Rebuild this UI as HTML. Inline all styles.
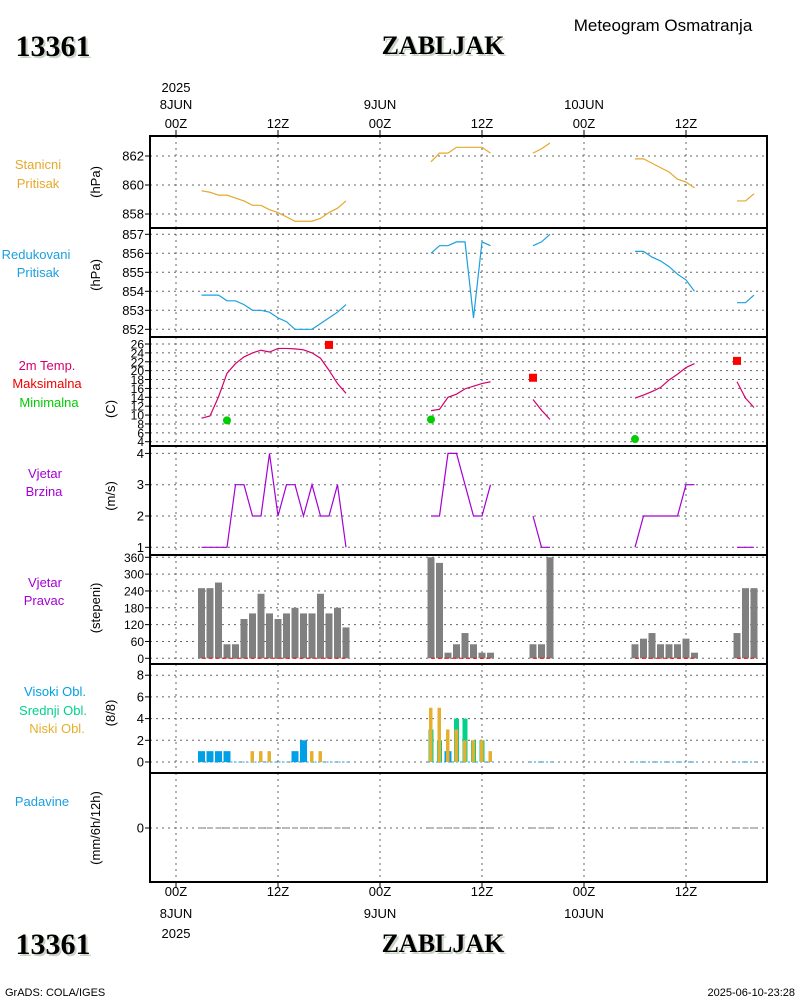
<!DOCTYPE html>
<html><head><meta charset="utf-8"><style>
html,body{margin:0;padding:0;background:#fff;}
svg{display:block;font-family:"Liberation Sans",sans-serif;}
</style></head><body>
<svg id="chart" width="800" height="1000" viewBox="0 0 800 1000" xmlns="http://www.w3.org/2000/svg">
<rect x="0" y="0" width="800" height="1000" fill="#fff"/>
<g id="grid"></g>
<g id="marks"></g>
<g id="frames"></g>
<g id="labels" font-size="13" fill="#000"></g>
<text x="663" y="31" font-size="17" text-anchor="middle" fill="#000">Meteogram Osmatranja</text>
<text x="55" y="58" font-size="30" font-weight="bold" font-family="Liberation Serif,serif" text-anchor="middle" fill="#c8d4c4">13361</text>
<text x="53" y="56" font-size="30" font-weight="bold" font-family="Liberation Serif,serif" text-anchor="middle" fill="#000">13361</text>
<text x="445" y="56" font-size="26" font-weight="bold" font-family="Liberation Serif,serif" text-anchor="middle" fill="#c8d4c4">ZABLJAK</text>
<text x="443" y="54" font-size="26" font-weight="bold" font-family="Liberation Serif,serif" text-anchor="middle" fill="#000">ZABLJAK</text>
<text x="55" y="956" font-size="30" font-weight="bold" font-family="Liberation Serif,serif" text-anchor="middle" fill="#c8d4c4">13361</text>
<text x="53" y="954" font-size="30" font-weight="bold" font-family="Liberation Serif,serif" text-anchor="middle" fill="#000">13361</text>
<text x="445" y="954" font-size="26" font-weight="bold" font-family="Liberation Serif,serif" text-anchor="middle" fill="#c8d4c4">ZABLJAK</text>
<text x="443" y="952" font-size="26" font-weight="bold" font-family="Liberation Serif,serif" text-anchor="middle" fill="#000">ZABLJAK</text>
<text x="5" y="996" font-size="11" fill="#000">GrADS: COLA/IGES</text>
<text x="795" y="996" font-size="11" text-anchor="end" fill="#000">2025-06-10-23:28</text>
</svg>
<script>
// ---- data (hourly, hours since 2025-06-08 00Z) ----
const hours = [3,4,5,6,7,8,9,10,11,12,13,14,15,16,17,18,19,20, 30,31,32,33,34,35,36,37, 42,43,44, 54,55,56,57,58,59,60,61, 66,67,68];
const stationP = [859.6,859.5,859.3,859.3,859.1,858.9,858.6,858.6,858.3,858.1,857.8,857.5,857.5,857.5,857.7,858.1,858.4,858.9, 861.6,862.2,862.2,862.6,862.6,862.6,862.6,862.2, 862.2,862.5,862.9, 861.8,861.8,861.5,861.2,860.9,860.4,860.2,859.8, 858.9,858.9,859.4];
const reducedP = [853.8,853.8,853.8,853.5,853.5,853.3,853.0,853.0,852.9,852.6,852.4,852.0,852.0,852.0,852.3,852.6,852.9,853.3, 856.0,856.4,856.4,856.6,856.6,852.6,856.6,856.4, 856.4,856.6,857.0, 856.1,856.1,855.8,855.6,855.3,854.9,854.6,854.0, 853.4,853.4,853.8];
const temp2m = [9.3,9.8,14.1,19.4,21.6,23.1,24.0,24.6,24.2,25.0,25.0,24.9,24.7,24.0,22.8,20.1,17.1,14.9, 11.0,11.3,14.0,14.7,15.9,16.5,17.1,17.5, 13.5,11.1,9.0, 13.8,14.5,15.3,16.2,17.9,19.2,20.7,21.6, 17.5,13.8,11.7];
const maxHours = [18,42,66];
const maxTemp = [25.8,18.4,22.2];
const minHours = [6,30,54];
const minTemp = [8.8,9.0,4.6];
const windSpeed = [1,1,1,1,3,3,2,2,4,2,3,3,2,3,2,2,3,1, 2,2,4,4,3,2,2,3, 2,1,1, 1,2,2,2,2,2,3,3, 1,1,1];
const windDir = [250,250,270,50,50,140,160,230,160,140,160,180,160,160,230,160,180,110, 360,340,20,50,90,50,20,20, 50,50,360, 50,70,90,50,50,50,70,20, 90,250,250];
const cloudHigh = [1,1,1,1,0,0,0,0,0,0,0,1,2,0,0,0,0,0, 0,0,1,0,0,0,0,0, 0,0,0, 0,0,0,0,0,0,0,0, 0,0,0];
const cloudMid = [0,0,0,0,0,0,0,0,0,0,0,0,0,0,0,0,0,0, 3,2,0,4,4,2,2,0, 0,0,0, 0,0,0,0,0,0,0,0, 0,0,0];
const cloudLow = [0,0,0,0,0,0,1,1,1,0,0,0,0,1,1,0,0,0, 5,5,3,3,2,2,2,1, 0,0,0, 0,0,0,0,0,0,0,0, 0,0,0];
const precip = [0,0,0,0,0,0,0,0,0,0,0,0,0,0,0,0,0,0, 0,0,0,0,0,0,0,0, 0,0,0, 0,0,0,0,0,0,0,0, 0,0,0];
const timeTickHours = [0,12,24,36,48,60];
const timeTickLabels = ["00Z","12Z","00Z","12Z","00Z","12Z"];
const dayLabels = [[0,"8JUN"],[24,"9JUN"],[48,"10JUN"]];
const stationTicks = [858,860,862];
const reducedTicks = [852,853,854,855,856,857];
const tempTicks = [4,6,8,10,12,14,16,18,20,22,24,26];
const windSpdTicks = [1,2,3,4];
const windDirTicks = [0,60,120,180,240,300,360];
const cloudTicks = [0,2,4,6,8];
const precipTicks = [0];

// ---- axes ----
const L=150, R=767;
const xOf = h => 176 + 8.5*h;
const yStation = v => 185 - (v-860)*14.5;
const yReduced = v => 329.3 - (v-852)*19.0;
const yTemp = v => 441.7 - (v-4)*4.44;
const yWind = v => 547.3 - (v-1)*31.3;
const yDir = v => 658.3 - v*0.2806;
const yCloud = v => 762 - v*10.85;
const yPrecip = v => 828 - v*10;
const panels = [[136,228],[228,337],[337,446],[446,555],[555,664],[664,773],[773,882]];

const NS="http://www.w3.org/2000/svg";
const grid=document.getElementById('grid'), marks=document.getElementById('marks'), frames=document.getElementById('frames'), labels=document.getElementById('labels');
function mk(tag, attrs, parent){const e=document.createElementNS(NS,tag);for(const k in attrs)e.setAttribute(k,attrs[k]);parent.appendChild(e);return e;}

timeTickHours.forEach((h,i)=>{
  const x=xOf(h);
  panels.forEach(p=>{
    const g=mk('line',{x1:x,x2:x,y1:p[0],y2:p[1],stroke:'#666','stroke-width':1,'stroke-dasharray':'2,4'},grid);
    
    
  });
  mk('line',{x1:x,x2:x,y1:130,y2:136,stroke:'#000','stroke-width':1},frames);
  mk('line',{x1:x,x2:x,y1:882,y2:888,stroke:'#000','stroke-width':1},frames);
  const t1=mk('text',{x:x,y:128,'text-anchor':'middle'},labels);t1.textContent=timeTickLabels[i];
  
  
  const t2=mk('text',{x:x,y:896,'text-anchor':'middle'},labels);t2.textContent=timeTickLabels[i];
  
  
});
dayLabels.forEach(d=>{
  const x=xOf(d[0]);
  const a=mk('text',{x:x,y:109,'text-anchor':'middle'},labels);a.textContent=d[1];
  
  
  const b=mk('text',{x:x,y:918,'text-anchor':'middle'},labels);b.textContent=d[1];
  
  
});
{const a=mk('text',{x:xOf(0),y:92,'text-anchor':'middle'},labels);a.textContent='2025';
 
 
 const b=mk('text',{x:xOf(0),y:938,'text-anchor':'middle'},labels);b.textContent='2025';
 
 }

function yAxis(ticks, fy, fs, name){
  ticks.forEach(v=>{
    const y=fy(v);
    const g=mk('line',{x1:L,x2:R,y1:y,y2:y,stroke:'#666','stroke-width':1,'stroke-dasharray':'2,4'},grid);
    
    
    mk('line',{x1:L-5,x2:L,y1:y,y2:y,stroke:'#000'},frames);
    const t=mk('text',{x:L-6,y:y+4.5,'text-anchor':'end','font-size':fs},labels);t.textContent=v;
    
    
  });
}
yAxis(stationTicks,yStation,13,'station-pressure');
yAxis(reducedTicks,yReduced,13,'reduced-pressure');
yAxis(tempTicks,yTemp,12,'temperature');
yAxis(windSpdTicks,yWind,13,'wind-speed');
yAxis(windDirTicks,yDir,12,'wind-direction');
yAxis(cloudTicks,yCloud,13,'cloud-cover');
yAxis(precipTicks,yPrecip,13,'precipitation');

panels.forEach((p,i)=>{
  const r=mk('rect',{x:L,y:p[0],width:R-L,height:p[1]-p[0],fill:'none',stroke:'#000','stroke-width':2},frames);
  
  
});

function segLine(vals, fy, color, name){
  let seg=[];
  const flush=()=>{ if(seg.length>1){const p=mk('polyline',{points:seg.join(' '),fill:'none',stroke:color,'stroke-width':1.2},marks);
      
      } seg=[]; };
  hours.forEach((h,i)=>{
    if(i>0 && h-hours[i-1]>1) flush();
    seg.push(xOf(h)+','+fy(vals[i]));
  });
  flush();
}
segLine(stationP,yStation,'#e6a82a','station-pressure-line');
segLine(reducedP,yReduced,'#1a9fdf','reduced-pressure-line');
segLine(temp2m,yTemp,'#d4006e','temperature-line');
segLine(windSpeed,yWind,'#a400d4','wind-speed-line');

maxHours.forEach((h,i)=>{
  const r=mk('rect',{x:xOf(h)-4,y:yTemp(maxTemp[i])-4,width:8,height:8,fill:'#f00'},marks);
  
  
});
minHours.forEach((h,i)=>{
  const c=mk('circle',{cx:xOf(h),cy:yTemp(minTemp[i]),r:4,fill:'#0c0'},marks);
  
  
});

hours.forEach((h,i)=>{
  const x=xOf(h), y=yDir(windDir[i]);
  const b=mk('rect',{x:x-3.5,y:y,width:7,height:yDir(0)-y,fill:'#808080'},marks);
  
  
});
(function(){
  let s=0;
  for(let i=1;i<=hours.length;i++){
    if(i===hours.length || hours[i]-hours[i-1]>1){
      const l=mk('line',{x1:xOf(hours[s]),x2:xOf(hours[i-1]),y1:yDir(0),y2:yDir(0),stroke:'#e00','stroke-width':1,'stroke-dasharray':'4,3'},marks);
      
      
      const pl=mk('line',{x1:xOf(hours[s])-3,x2:xOf(hours[i-1])+3,y1:yCloud(0),y2:yCloud(0),stroke:'#1a9fdf','stroke-width':1,'stroke-dasharray':'2,2'},marks);
      
      
      s=i;
    }
  }
})();

hours.forEach((h,i)=>{
  const x=xOf(h);
  if(cloudHigh[i]>0){const r=mk('rect',{x:x-3.5,y:yCloud(cloudHigh[i]),width:7,height:yCloud(0)-yCloud(cloudHigh[i]),fill:'#00a0e6'},marks);
    
    }
  if(cloudMid[i]>0){const r=mk('rect',{x:x-2.5,y:yCloud(cloudMid[i]),width:5,height:yCloud(0)-yCloud(cloudMid[i]),fill:'#00d28c'},marks);
    
    }
  if(cloudLow[i]>0){const r=mk('rect',{x:x-2,y:yCloud(cloudLow[i]),width:3.5,height:yCloud(0)-yCloud(cloudLow[i]),fill:'#e6af2d'},marks);
    
    }
});

hours.forEach((h,i)=>{
  const x=xOf(h), y=yPrecip(precip[i]);
  const r=mk('rect',{x:x-3,y:y-0.5,width:6,height:yPrecip(0)-y+1,fill:'#777'},marks);
  
  
});

function lbl(x,y,txt,color,name,fs){const t=mk('text',{x:x,y:y,'text-anchor':'middle',fill:color,'font-size':fs||13},labels);t.textContent=txt;
  
  }
function unit(x,y,txt,name){const t=mk('text',{x:0,y:0,'text-anchor':'middle',transform:`translate(${x},${y}) rotate(-90)`,'font-size':13},labels);t.textContent=txt;
  
  }
lbl(38,169,'Stanicni','#e6a82a','station-pressure-title');
lbl(38,188,'Pritisak','#e6a82a','station-pressure-title');
unit(100,182,'(hPa)','station-pressure-unit');
lbl(36,259,'Redukovani','#1a9fdf','reduced-pressure-title');
lbl(38,277,'Pritisak','#1a9fdf','reduced-pressure-title');
unit(100,275,'(hPa)','reduced-pressure-unit');
lbl(47,370,'2m Temp.','#d4006e','temperature-title');
lbl(47,388,'Maksimalna','#e00','max-temp-legend');
lbl(49,407,'Minimalna','#0c0','min-temp-legend');
unit(115,409,'(C)','temperature-unit');
lbl(45,478,'Vjetar','#a400d4','wind-speed-title');
lbl(44,496,'Brzina','#a400d4','wind-speed-title');
unit(115,496,'(m/s)','wind-speed-unit');
lbl(45,587,'Vjetar','#a400d4','wind-direction-title');
lbl(44,605,'Pravac','#a400d4','wind-direction-title');
unit(100,608,'(stepeni)','wind-direction-unit');
lbl(55,696,'Visoki Obl.','#00a0e6','high-cloud-legend');
lbl(53,715,'Srednji Obl.','#00d28c','mid-cloud-legend');
lbl(57,733,'Niski Obl.','#e6af2d','low-cloud-legend');
unit(115,713,'(8/8)','cloud-unit');
lbl(42,806,'Padavine','#1a9fdf','precipitation-title');
unit(100,828,'(mm/6h/12h)','precipitation-unit');
</script>
</body></html>
